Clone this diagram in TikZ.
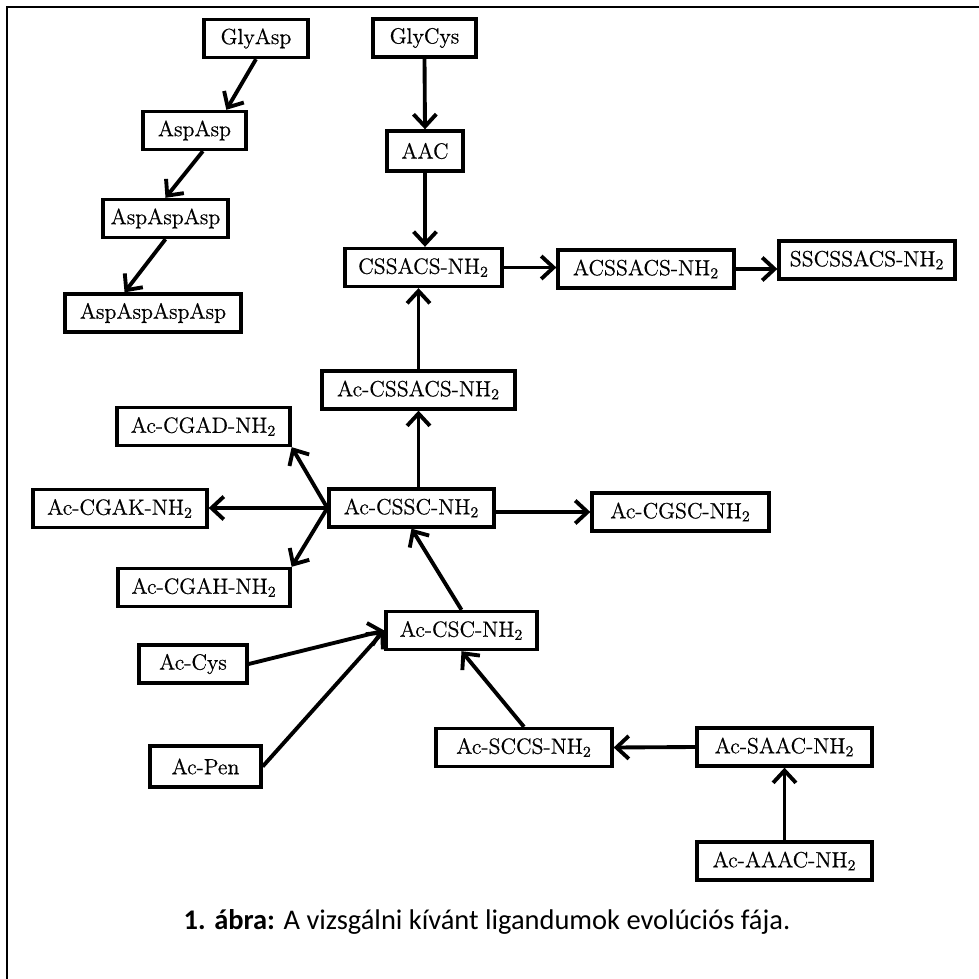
\documentclass[tikz,border=0pt]{standalone}
\usepackage{fontspec}
\newfontfamily\capfont{Carlito}
\newfontfamily\molfont{Latin Modern Roman}[FakeBold=0.6]
\usetikzlibrary{arrows.meta}

\begin{document}
\begin{tikzpicture}[x=0.02cm, y=-0.02cm,
  mol/.style={draw, line width=1.9pt, minimum height=0.76cm, inner sep=2pt,
    font=\molfont\fontsize{12.5}{14}\selectfont},
  react/.style={line width=2.2pt, -{Straight Barb[length=7pt,width=13pt]}}]
\useasboundingbox (0,0) rectangle (979,979);

% Frame (only its left and top sides fall inside the page)
\draw[line width=1.1pt] (7,979) -- (7,7) -- (979,7);

% Asp branch
\node[mol, minimum width=2.08cm] (ga) at (256,38.5) {GlyAsp};
\node[mol, minimum width=2.06cm] (aa) at (194.5,130.5) {AspAsp};
\node[mol, minimum width=2.50cm] (aaa) at (165.5,218.5) {AspAspAsp};
\node[mol, minimum width=3.52cm] (aaaa) at (153,313) {AspAspAspAsp};

% Cys branch, top row
\node[mol, minimum width=2.06cm] (gc) at (424.5,38) {GlyCys};
\node[mol, minimum width=1.52cm, minimum height=0.8cm] (aac) at (425,151) {AAC};
\node[mol, minimum width=3.14cm] (cssacs) at (423.5,267.5) {CSSACS-NH\textsubscript{2}};
\node[mol, minimum width=3.52cm] (acssacs) at (646,269) {ACSSACS-NH\textsubscript{2}};
\node[mol, minimum width=3.52cm] (sscssacs) at (867,260) {SSCSSACS-NH\textsubscript{2}};

% Central part
\node[mol, minimum width=3.86cm] (accssacs) at (418.5,390) {Ac-CSSACS-NH\textsubscript{2}};
\node[mol, minimum width=3.30cm] (cssc) at (411.5,508) {Ac-CSSC-NH\textsubscript{2}};
\node[mol, minimum width=3.46cm] (cgad) at (203.5,426.5) {Ac-CGAD-NH\textsubscript{2}};
\node[mol, minimum width=3.48cm] (cgak) at (120,508.5) {Ac-CGAK-NH\textsubscript{2}};
\node[mol, minimum width=3.44cm] (cgah) at (204,587.5) {Ac-CGAH-NH\textsubscript{2}};
\node[mol, minimum width=3.54cm] (cgsc) at (680.5,512) {Ac-CGSC-NH\textsubscript{2}};

% Lower part
\node[mol, minimum width=3.02cm] (csc) at (461.5,630.5) {Ac-CSC-NH\textsubscript{2}};
\node[mol, minimum width=2.16cm] (cys) at (193,664) {Ac-Cys};
\node[mol, minimum width=2.22cm, minimum height=0.82cm] (pen) at (205.5,766.5) {Ac-Pen};
\node[mol, minimum width=3.52cm] (sccs) at (524,747.5) {Ac-SCCS-NH\textsubscript{2}};
\node[mol, minimum width=3.50cm] (saac) at (784.5,747) {Ac-SAAC-NH\textsubscript{2}};
\node[mol, minimum width=3.50cm] (aaac) at (784.5,861) {Ac-AAAC-NH\textsubscript{2}};

% Arrows
\draw[react] (ga.south) -- (aa.33);
\draw[react] (aa.-68) -- (aaa.north);
\draw[react] (aaa.south) -- (aaaa.144);
\draw[react] (gc.south) -- (aac.north);
\draw[react] (aac.south) -- (aac.south |- cssacs.north);
\draw[react] (cssacs.east) -- (cssacs.east -| acssacs.west);
\draw[react] (acssacs.east) -- (acssacs.east -| sscssacs.west);
\draw[react] (cssc.north -| accssacs.south) -- (accssacs.south);
\draw[react] (accssacs.north) -- (accssacs.north |- cssacs.south);
\draw[react] (cssc.west) -- (cgad.south east);
\draw[react] (cssc.west) -- (cssc.west -| cgak.east);
\draw[react] (cssc.west) -- (cgah.north east);
\draw[react] (cgsc.west -| cssc.east) -- (cgsc.west);
\draw[react] (csc.north) -- (cssc.south);
\draw[react] (cys.east) -- (csc.west);
\draw[react] (pen.east) -- (csc.west);
\draw[react] (sccs.north) -- (csc.south);
\draw[react] (saac.west) -- (sccs.east);
\draw[react] (aaac.north) -- (saac.south);

% Caption
\node (cap) at (487,922) {\capfont\fontsize{16.2}{19}\selectfont\textbf{1. ábra:} A vizsgálni kívánt ligandumok evolúciós fája.};

\end{tikzpicture}
\end{document}
